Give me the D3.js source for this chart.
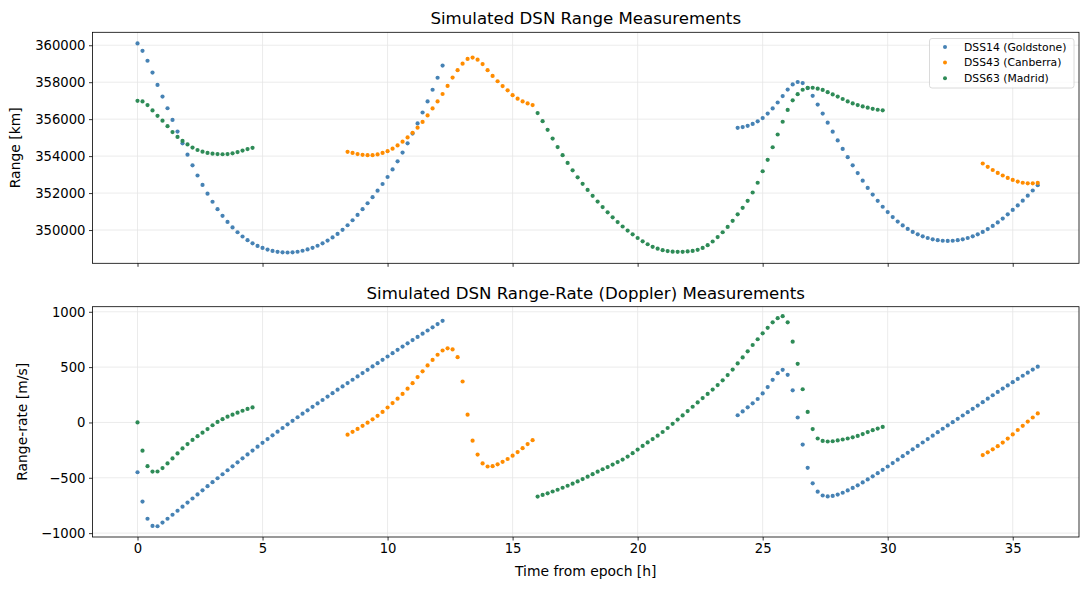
<!DOCTYPE html>
<meta charset="utf-8">
<script src="https://d3js.org/d3.v7.min.js"></script>
<style>
  body { margin: 0; background: #fff; }
  svg text { font-family: "DejaVu Sans", sans-serif; fill: #000; }
</style>
<div id="chart"></div>
<script>
// samples are every 0.2 h inside each pass
const STEP_H = 0.2;

// DSS14 (Goldstone): start of each pass [h], range [km], range-rate [m/s]
const dss14Start = [0, 24];
const dss14RangeA = [360100, 359700, 359160, 358520, 357850, 357220, 356590, 355960, 355330, 354690,
  354080, 353500, 352950, 352440, 351970, 351530, 351130, 350770, 350440, 350140,
  349880, 349650, 349450, 349280, 349140, 349030, 348940, 348870, 348820, 348795,
  348785, 348795, 348825, 348880, 348950, 349040, 349150, 349280, 349430, 349600,
  349790, 350010, 350260, 350530, 350820, 351130, 351450, 351780, 352130, 352490,
  352870, 353280, 353720, 354190, 354690, 355220, 355770, 356360, 356960, 357590,
  358240, 358900];
const dss14RangeB = [355530, 355570, 355640, 355740, 355880, 356060, 356300, 356580, 356900, 357250,
  357600, 357880, 358010, 357950, 357680, 357260, 356790, 356300, 355810, 355320,
  354850, 354390, 353940, 353500, 353080, 352670, 352280, 351920, 351580, 351260,
  350970, 350700, 350460, 350250, 350060, 349900, 349770, 349660, 349570, 349500,
  349450, 349420, 349410, 349420, 349450, 349500, 349570, 349660, 349770, 349900,
  350050, 350220, 350410, 350620, 350850, 351090, 351330, 351590, 351860, 352140,
  352430];
const dss14RateA = [-450, -715, -870, -935, -938, -905, -870, -834, -798, -761,
  -724, -687, -650, -613, -576, -540, -504, -468, -432, -396,
  -360, -324, -289, -254, -219, -184, -150, -116, -83, -50,
  -17, 15, 47, 79, 110, 141, 172, 203, 234, 265,
  296, 326, 356, 386, 416, 446, 476, 506, 536, 566,
  596, 626, 656, 686, 715, 744, 773, 802, 831, 860,
  889, 918];
const dss14RateB = [65, 100, 137, 173, 212, 262, 320, 385, 445, 476,
  430, 290, 45, -200, -410, -550, -625, -660, -668, -664,
  -652, -635, -614, -592, -568, -542, -515, -487, -458, -428,
  -398, -367, -336, -305, -274, -243, -212, -181, -150, -119,
  -88, -57, -27, 3, 33, 63, 93, 123, 153, 183,
  215, 246, 276, 306, 335, 364, 393, 422, 450, 478,
  504];

// DSS43 (Canberra)
const dss43Start = [8.4, 33.8];
const dss43RangeA = [354230, 354170, 354110, 354070, 354050, 354050, 354090, 354170, 354270, 354400,
  354580, 354780, 355010, 355260, 355540, 355850, 356200, 356580, 356960, 357360,
  357800, 358250, 358650, 359000, 359260, 359330, 359220, 358980, 358650, 358340,
  358050, 357790, 357560, 357300, 357110, 356960, 356850, 356760];
const dss43RangeB = [353600, 353420, 353250, 353090, 352950, 352820, 352710, 352620, 352560, 352530,
  352530, 352550];
const dss43RateA = [-110, -85, -58, -30, -2, 28, 60, 95, 135, 175,
  215, 258, 305, 355, 410, 462, 515, 565, 612, 650,
  670, 660, 590, 370, 70, -165, -290, -370, -398, -395,
  -378, -356, -330, -300, -268, -232, -195, -160];
const dss43RateB = [-295, -270, -243, -214, -182, -146, -108, -68, -30, 8,
  45, 82];

// DSS63 (Madrid)
const dss63Start = [0, 16];
const dss63RangeA = [356990, 356960, 356760, 356470, 356180, 355920, 355620, 355300, 355040, 354820,
  354630, 354460, 354330, 354240, 354170, 354130, 354110, 354100, 354110, 354150,
  354220, 354300, 354380, 354450];
const dss63RangeB = [356330, 355890, 355420, 354950, 354490, 354050, 353630, 353230, 352850, 352500,
  352170, 351850, 351540, 351240, 350960, 350690, 350430, 350190, 349970, 349770,
  349570, 349390, 349230, 349090, 348990, 348910, 348860, 348830, 348820, 348820,
  348840, 348870, 348930, 349030, 349180, 349380, 349620, 349880, 350170, 350500,
  350850, 351200, 351580, 352030, 352560, 353180, 353800, 354480, 355170, 355860,
  356500, 357020, 357350, 357590, 357690, 357700, 357650, 357580, 357460, 357340,
  357220, 357090, 356960, 356850, 356760, 356690, 356620, 356560, 356510, 356480];
const dss63RateA = [0, -255, -395, -444, -443, -412, -370, -325, -280, -235,
  -195, -158, -124, -92, -60, -25, 5, 30, 52, 70,
  88, 106, 122, 136];
const dss63RateB = [-670, -655, -640, -624, -608, -590, -572, -553, -533, -512,
  -490, -467, -445, -423, -403, -381, -358, -335, -308, -278,
  -245, -212, -180, -150, -119, -86, -50, -12, 26, 64,
  103, 142, 181, 220, 258, 297, 338, 381, 428, 478,
  533, 588, 643, 700, 752, 805, 855, 905, 942, 960,
  905, 730, 530, 300, 95, -60, -145, -167, -172, -170,
  -162, -154, -145, -134, -122, -105, -87, -70, -55, -40];

const xTicks = [0, 5, 10, 15, 20, 25, 30, 35];
const rangeTicks = [350000, 352000, 354000, 356000, 358000, 360000];
const rateTicks = [-1000, -500, 0, 500, 1000];

const stations = [
  { name: "DSS14 (Goldstone)", color: "#4682b4",
    passes: [[dss14Start[0], dss14RangeA, dss14RateA], [dss14Start[1], dss14RangeB, dss14RateB]] },
  { name: "DSS43 (Canberra)", color: "#ff8c00",
    passes: [[dss43Start[0], dss43RangeA, dss43RateA], [dss43Start[1], dss43RangeB, dss43RateB]] },
  { name: "DSS63 (Madrid)", color: "#2e8b57",
    passes: [[dss63Start[0], dss63RangeA, dss63RateA], [dss63Start[1], dss63RangeB, dss63RateB]] }
];

// turn each pass into {t, range, rate} points
stations.forEach(s => {
  s.points = s.passes.flatMap(([t0, rng, rate]) =>
    rng.map((r, i) => ({ t: t0 + i * STEP_H, range: r, rate: rate[i] })));
});

const width = 1089, height = 590;
const left = 92.5, right = 1079;

const svg = d3.select("#chart")
  .append("svg")
    .attr("width", width)
    .attr("height", height);

const x = d3.scaleLinear().domain([-1.8, 37.65]).range([left, right]);
const yRange = d3.scaleLinear().domain([348200, 360700]).range([263.3, 32.3]);
const yRate = d3.scaleLinear().domain([-1035, 1046]).range([537, 306.7]);

function drawPanel(y, ticks, key, title, ylabel, ylabelX, showXLabels) {
  const [bottom, top] = y.range();

  // grid
  const grid = svg.append("g").attr("stroke", "#e6e6e6").attr("stroke-width", 0.8);
  grid.selectAll(".gx").data(xTicks).join("line")
    .attr("x1", d => x(d)).attr("x2", d => x(d))
    .attr("y1", top).attr("y2", bottom);
  grid.selectAll(".gy").data(ticks).join("line")
    .attr("x1", left).attr("x2", right)
    .attr("y1", d => y(d)).attr("y2", d => y(d));

  // points
  stations.forEach(s => {
    svg.append("g")
      .selectAll("circle")
      .data(s.points)
      .join("circle")
        .attr("cx", d => x(d.t))
        .attr("cy", d => y(d[key]))
        .attr("r", 2.1)
        .attr("fill", s.color);
  });

  // axes
  const ax = svg.append("g")
    .attr("transform", `translate(0,${bottom})`)
    .call(d3.axisBottom(x).tickValues(xTicks).tickSize(3.5).tickPadding(3.5)
      .tickFormat(showXLabels ? d3.format("d") : () => ""));
  const ay = svg.append("g")
    .attr("transform", `translate(${left},0)`)
    .call(d3.axisLeft(y).tickValues(ticks).tickSize(3.5).tickPadding(3.5).tickFormat(d3.format("d")));
  [ax, ay].forEach(a => {
    a.attr("font-family", null).attr("font-size", null);
    a.select(".domain").remove();
    a.selectAll("line").attr("stroke", "#000").attr("stroke-width", 0.8);
    a.selectAll("text").style("font-size", "13.2px");
  });

  // frame
  svg.append("rect")
    .attr("x", left).attr("y", top)
    .attr("width", right - left).attr("height", bottom - top)
    .attr("fill", "none").attr("stroke", "#000").attr("stroke-width", 0.8);

  svg.append("text")
    .attr("x", (left + right) / 2).attr("y", top - 8)
    .attr("text-anchor", "middle")
    .style("font-size", "16.6px")
    .text(title);

  svg.append("text")
    .attr("transform", `translate(${ylabelX},${(top + bottom) / 2}) rotate(-90)`)
    .attr("text-anchor", "middle")
    .style("font-size", "13.9px")
    .text(ylabel);
}

drawPanel(yRange, rangeTicks, "range", "Simulated DSN Range Measurements", "Range [km]", 20, false);
drawPanel(yRate, rateTicks, "rate", "Simulated DSN Range-Rate (Doppler) Measurements", "Range-rate [m/s]", 26.5, true);

svg.append("text")
  .attr("x", (left + right) / 2).attr("y", 576)
  .attr("text-anchor", "middle")
  .style("font-size", "13.9px")
  .text("Time from epoch [h]");

// legend
const legend = svg.append("g").attr("transform", "translate(929.5,38.5)");
legend.append("rect")
  .attr("width", 144.5).attr("height", 49.5).attr("rx", 2.5)
  .attr("fill", "#fff").attr("fill-opacity", 0.8)
  .attr("stroke", "#d0d0d0").attr("stroke-width", 0.8);
const item = legend.selectAll(".item")
  .data(stations)
  .join("g")
    .attr("transform", (d, i) => `translate(0,${8.5 + i * 15.6})`);
item.append("circle").attr("cx", 15.5).attr("r", 2).attr("fill", d => d.color);
item.append("text")
  .attr("x", 34.5).attr("dy", "0.36em")
  .style("font-size", "10.8px")
  .text(d => d.name);
</script>
